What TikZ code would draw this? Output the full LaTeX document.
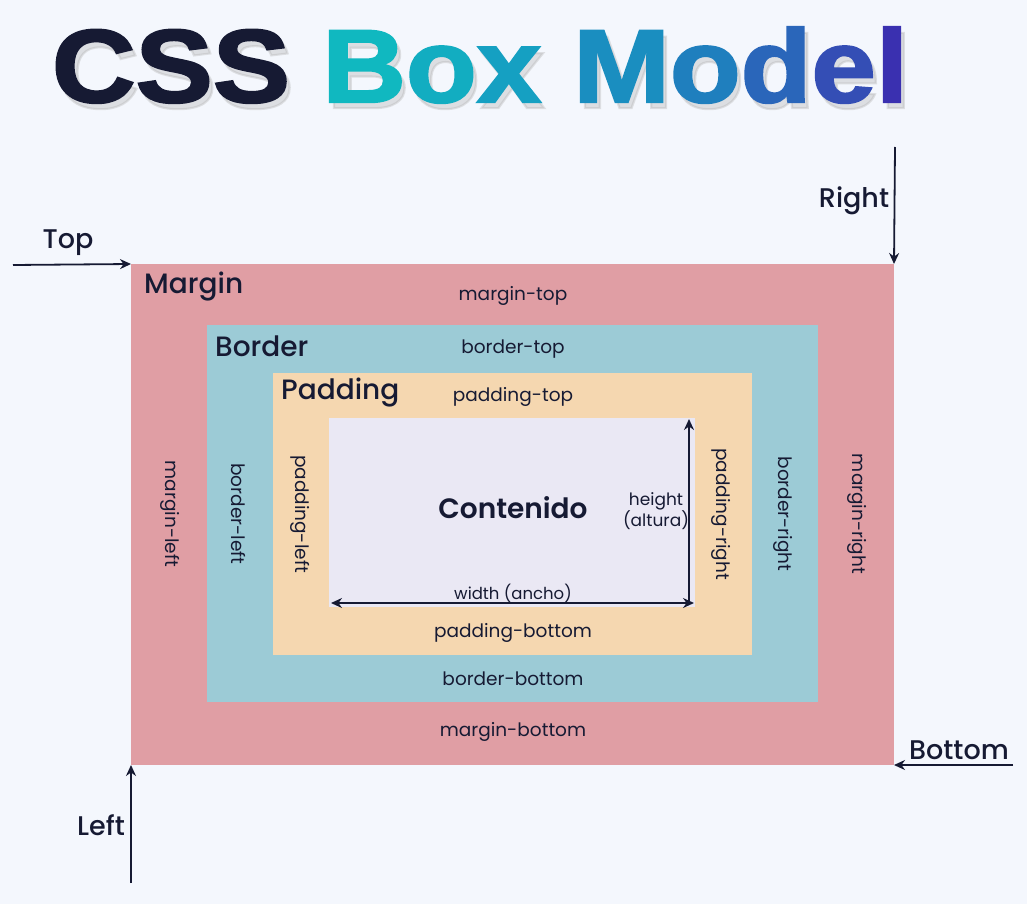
\documentclass[tikz,border=0pt]{standalone}
\usepackage{fontspec}
\setmainfont{Poppins}
\newfontfamily\medfont{Poppins Medium}
\newfontfamily\semifont{Poppins SemiBold}
\newfontfamily\titlefont[FakeBold=2]{Liberation Sans Bold}
\usetikzlibrary{arrows.meta}
\definecolor{bgcol}{HTML}{F4F7FD}
\definecolor{inkcol}{HTML}{161A33}
\definecolor{margincol}{HTML}{E09EA4}
\definecolor{bordercol}{HTML}{9CCBD6}
\definecolor{paddingcol}{HTML}{F5D7B0}
\definecolor{contentcol}{HTML}{EAE8F4}
\definecolor{tA}{HTML}{10B8C0}
\definecolor{tB}{HTML}{12ADC1}
\definecolor{tC}{HTML}{15A0C2}
\definecolor{tD}{HTML}{1A8EC0}
\definecolor{tE}{HTML}{1F7FBE}
\definecolor{tF}{HTML}{2A66BA}
\definecolor{tG}{HTML}{344EB5}
\definecolor{tH}{HTML}{3A30B0}
\newcommand{\ttl}[2]{\textcolor{#1}{#2}}
\begin{document}
\begin{tikzpicture}[x=1pt,y=-1pt]
\tikzstyle{box}=[inner sep=0pt, outer sep=0pt, draw=none]
\tikzstyle{side}=[font=\fontsize{18.5}{20}\selectfont, text=inkcol, inner sep=0pt]
\tikzstyle{boxname}=[font=\medfont\fontsize{28}{32}\selectfont, text=inkcol, anchor=west, inner sep=0pt]
\tikzstyle{edge}=[font=\medfont\fontsize{27}{30}\selectfont, text=inkcol, inner sep=0pt]
\tikzstyle{arr}=[draw=inkcol, line width=1.8pt, -{Stealth[length=11pt,width=10pt]}]
\tikzstyle{dim}=[draw=inkcol, line width=1.8pt, {Stealth[length=11pt,width=10pt]}-{Stealth[length=11pt,width=10pt]}]
\fill[bgcol] (0,0) rectangle (1027,904);
\useasboundingbox (0,0) rectangle (1027,904);
% title
\node[inner sep=0pt, text=gray!60, opacity=0.35, xscale=1.114, font=\titlefont\fontsize{104}{110}\selectfont] at (484,71) {CSS Box Model};
\node (title) [inner sep=0pt, xscale=1.114, font=\titlefont\fontsize{104}{110}\selectfont] at (480,65)
  {\ttl{inkcol}{CSS} \ttl{tA}{B}\ttl{tB}{o}\ttl{tC}{x} \ttl{tD}{M}\ttl{tE}{o}\ttl{tF}{d}\ttl{tG}{e}\ttl{tH}{l}};
% boxes
\node (margin) [box, fill=margincol, minimum width=763pt, minimum height=501pt] at (512.5,514.5) {};
\node (border) [box, fill=bordercol, minimum width=611pt, minimum height=377pt] at (512.5,513.5) {};
\node (padding) [box, fill=paddingcol, minimum width=479pt, minimum height=282pt] at (512.5,514) {};
\node (content) [box, fill=contentcol, minimum width=366pt, minimum height=189pt] at (512,512.5) {};
% box names
\node (marginname) [boxname] at (144,287) {Margin};
\node (bordername) [boxname] at (215,346) {Border};
\node (paddingname) [boxname] at (281,393) {Padding};
% top and bottom labels
\node (mtop) [side] at (513,296) {margin-top};
\node (btop) [side] at (513,349) {border-top};
\node (ptop) [side] at (513,397) {padding-top};
\node (pbottom) [side] at (513,633) {padding-bottom};
\node (bbottom) [side] at (513,679) {border-bottom};
\node (mbottom) [side] at (513,732) {margin-bottom};
% left and right labels
\node (mleft) [side, rotate=-90] at (170,514) {margin-left};
\node (bleft) [side, rotate=-90] at (238,514) {border-left};
\node (pleft) [side, rotate=-90] at (300,514) {padding-left};
\node (pright) [side, rotate=-90] at (721,514) {padding-right};
\node (bright) [side, rotate=-90] at (783,514) {border-right};
\node (mright) [side, rotate=-90] at (857,514) {margin-right};
% content
\node (contenido) [font=\semifont\fontsize{28}{32}\selectfont, text=inkcol] at (513,508) {Contenido};
\node (heightlbl) [side, font=\fontsize{17}{19}\selectfont, align=center] at (656,511) {height\\(altura)};
\node (widthlbl) [side, font=\fontsize{16.5}{18}\selectfont] at (513,593) {width (ancho)};
\coordinate (wl) at (331,603);
\coordinate (wr) at (694,603);
\coordinate (ht) at (689,419);
\coordinate (hb) at (689,604);
\draw[dim] (wl) -- (wr);
\draw[dim, {}-{Stealth[length=11pt,width=10pt]}] (hb) -- (ht);
% outer arrows
\coordinate (topfrom) at (13,265);
\coordinate (rightfrom) at (895,147);
\coordinate (bottomfrom) at (1013,765);
\coordinate (leftfrom) at (131,883);
\draw[arr] (topfrom) -- (margin.north west);
\draw[arr] (rightfrom) -- (margin.north east);
\draw[arr] (bottomfrom) -- (margin.south east);
\draw[arr] (leftfrom) -- (margin.south west);
\node (toplbl) [edge] at (68,243) {Top};
\node (rightlbl) [edge] at (854,201) {Right};
\node (bottomlbl) [edge] at (959,750) {Bottom};
\node (leftlbl) [edge] at (101,825) {Left};
\end{tikzpicture}
\end{document}
